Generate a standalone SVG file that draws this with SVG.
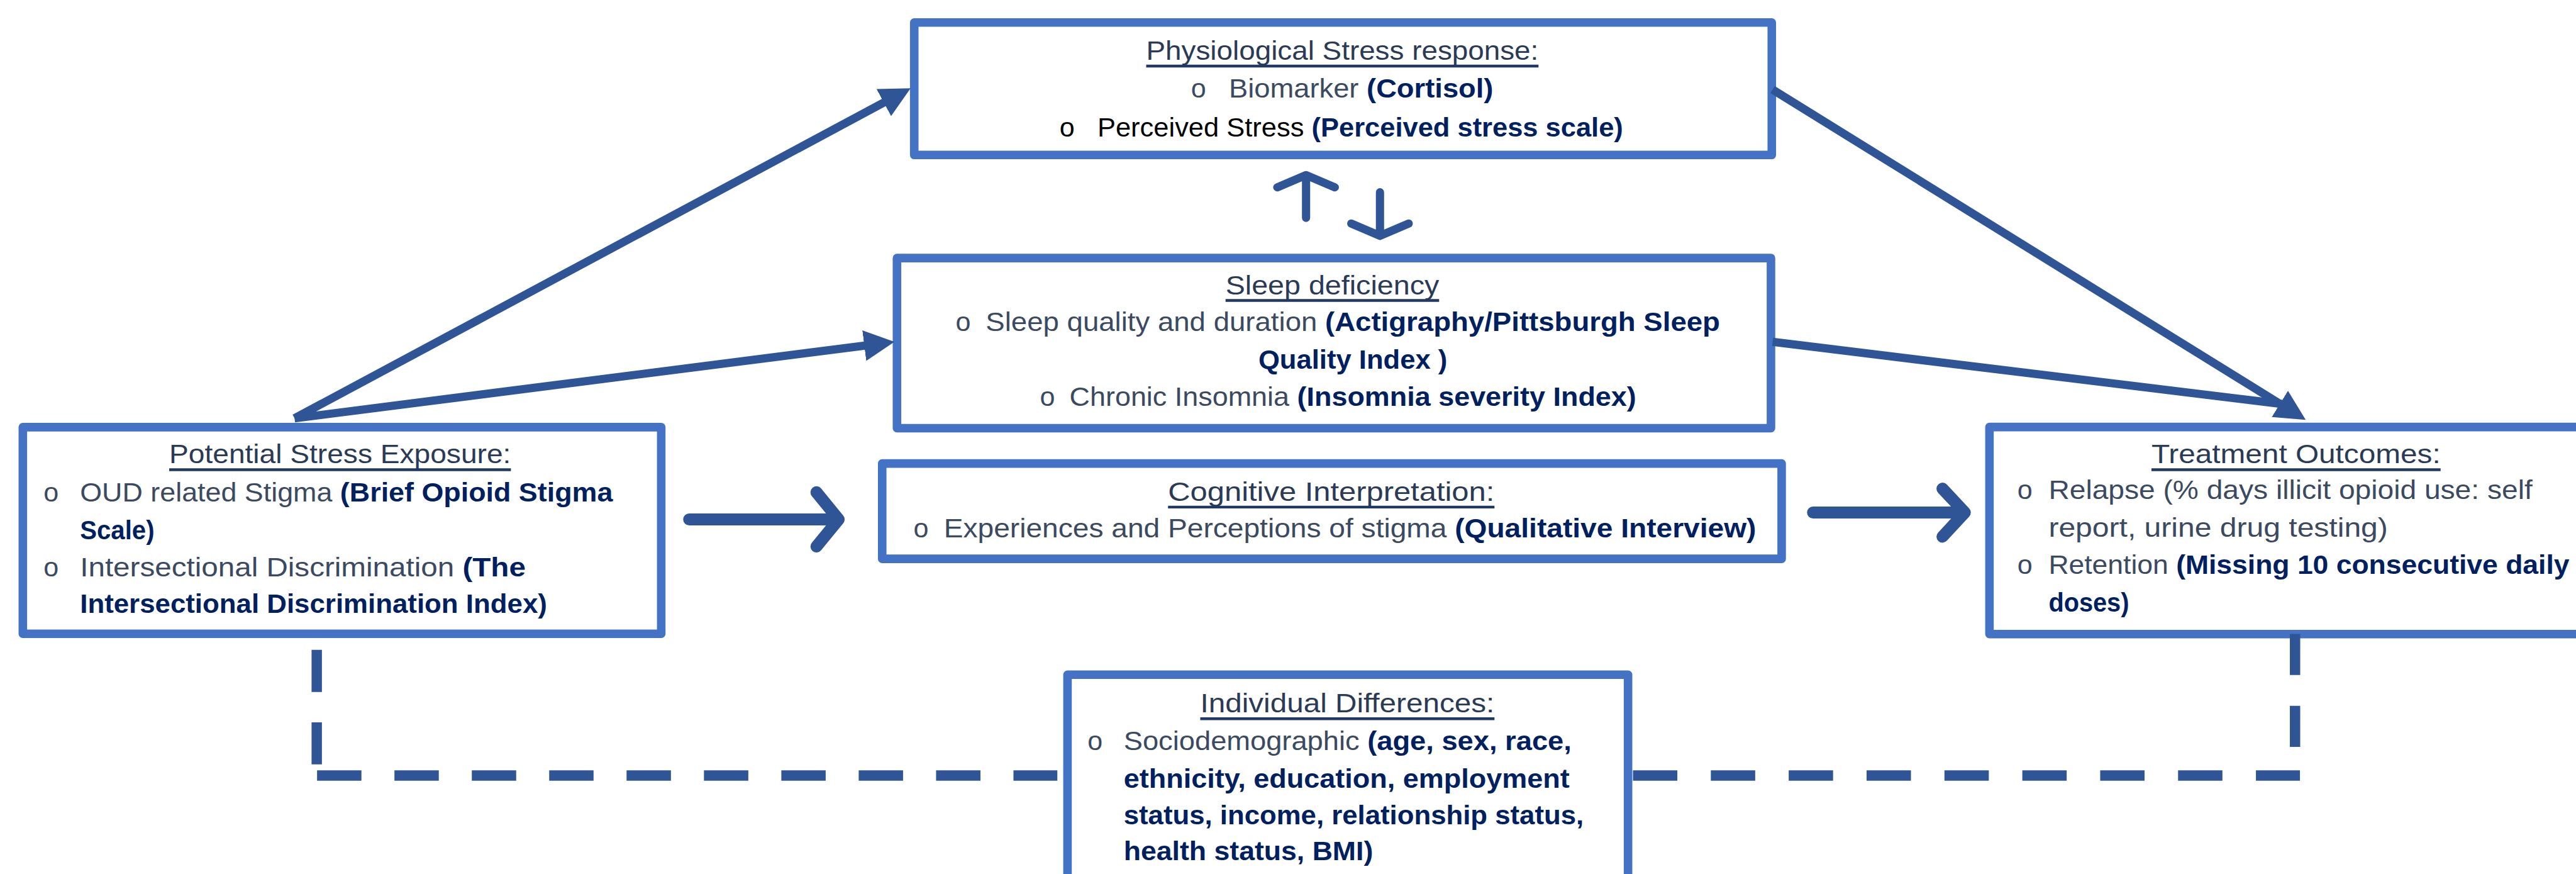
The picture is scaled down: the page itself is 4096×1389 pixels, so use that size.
<svg xmlns="http://www.w3.org/2000/svg" width="4096" height="1389" viewBox="0 0 4096 1389">
  <style>
    .box{fill:#ffffff;stroke:#4472C4;stroke-width:5.2;stroke-linejoin:round}
    .t{font-family:"Liberation Sans",Arial,sans-serif;font-size:16.5px}
    .title{fill:#2B3A55}
    .reg{fill:#3B4A61}
    .k{fill:#000000}
    .b{font-weight:bold;fill:#002060}
    .ul{stroke:#1F3864;stroke-width:1.7}
    .conn{stroke:#2F5597;stroke-width:5;fill:none}
    .chev{stroke:#2F5597;stroke-width:7.3;fill:none;stroke-linecap:round;stroke-linejoin:round}
    .small{stroke:#2F5597;stroke-width:5;fill:none;stroke-linecap:round;stroke-linejoin:round}
    .dash{stroke:#2F5597;stroke-width:6.3;fill:none}
  </style>
  <defs>
    <marker id="head" viewBox="0 0 18.5 18.7" refX="12.5" refY="9.35" markerWidth="18.5" markerHeight="18.7" markerUnits="userSpaceOnUse" orient="auto">
      <path d="M0,0 L18.5,9.35 L0,18.7 Z" fill="#2F5597"/>
    </marker>
  </defs>
  <rect width="4096" height="1389" fill="#ffffff"/>

  <g transform="scale(2.6122)">
    <!-- Physiological stress response -->
    <g id="physio">
      <rect class="box" x="556.5" y="13.7" width="522" height="80.6"/>
      <text class="t title" x="697.7" y="36.4" textLength="238.8" lengthAdjust="spacingAndGlyphs">Physiological Stress response:</text>
      <line class="ul" x1="697.7" y1="40.2" x2="936.5" y2="40.2"/>
      <text class="t reg" x="725" y="59.4">o</text>
      <text class="t" x="748" y="59.4" textLength="161" lengthAdjust="spacingAndGlyphs"><tspan class="reg">Biomarker </tspan><tspan class="b">(Cortisol)</tspan></text>
      <text class="t k" x="645" y="83">o</text>
      <text class="t" x="668" y="83" textLength="320" lengthAdjust="spacingAndGlyphs"><tspan class="k">Perceived Stress </tspan><tspan class="b">(Perceived stress scale)</tspan></text>
    </g>

    <!-- Sleep deficiency -->
    <g id="sleep">
      <rect class="box" x="546" y="157" width="532" height="103.5"/>
      <text class="t title" x="746" y="179" textLength="130" lengthAdjust="spacingAndGlyphs">Sleep deficiency</text>
      <line class="ul" x1="746" y1="182.8" x2="876" y2="182.8"/>
      <text class="t reg" x="581.7" y="201.5">o</text>
      <text class="t" x="600" y="201.5" textLength="447" lengthAdjust="spacingAndGlyphs"><tspan class="reg">Sleep quality and duration </tspan><tspan class="b">(Actigraphy/Pittsburgh Sleep</tspan></text>
      <text class="t b" x="766" y="224.5" textLength="115" lengthAdjust="spacingAndGlyphs">Quality Index )</text>
      <text class="t reg" x="633" y="246.8">o</text>
      <text class="t" x="651" y="246.8" textLength="345" lengthAdjust="spacingAndGlyphs"><tspan class="reg">Chronic Insomnia </tspan><tspan class="b">(Insomnia severity Index)</tspan></text>
    </g>

    <!-- Cognitive interpretation -->
    <g id="cognitive">
      <rect class="box" x="537" y="282" width="547.5" height="58"/>
      <text class="t title" x="711" y="304.6" textLength="198.7" lengthAdjust="spacingAndGlyphs">Cognitive Interpretation:</text>
      <line class="ul" x1="711" y1="308.5" x2="909.7" y2="308.5"/>
      <text class="t reg" x="556" y="327">o</text>
      <text class="t" x="574.5" y="327" textLength="494.5" lengthAdjust="spacingAndGlyphs"><tspan class="reg">Experiences and Perceptions of stigma </tspan><tspan class="b">(Qualitative Interview)</tspan></text>
    </g>

    <!-- Potential stress exposure -->
    <g id="exposure">
      <rect class="box" x="13.9" y="259.9" width="388.6" height="125.7"/>
      <text class="t title" x="103" y="281.6" textLength="208" lengthAdjust="spacingAndGlyphs">Potential Stress Exposure:</text>
      <line class="ul" x1="103" y1="285.8" x2="311" y2="285.8"/>
      <text class="t reg" x="26.5" y="305">o</text>
      <text class="t" x="48.7" y="305" textLength="324.3" lengthAdjust="spacingAndGlyphs"><tspan class="reg">OUD related Stigma </tspan><tspan class="b">(Brief Opioid Stigma</tspan></text>
      <text class="t b" x="48.7" y="328" textLength="45.3" lengthAdjust="spacingAndGlyphs">Scale)</text>
      <text class="t reg" x="26.5" y="350.5">o</text>
      <text class="t" x="48.7" y="350.5" textLength="271.3" lengthAdjust="spacingAndGlyphs"><tspan class="reg">Intersectional Discrimination </tspan><tspan class="b">(The</tspan></text>
      <text class="t b" x="48.7" y="373" textLength="284.3" lengthAdjust="spacingAndGlyphs">Intersectional Discrimination Index)</text>
    </g>

    <!-- Treatment outcomes (box runs past the right edge) -->
    <g id="outcomes">
      <rect class="box" x="1211" y="259.8" width="380" height="126"/>
      <text class="t title" x="1309.6" y="281.6" textLength="176" lengthAdjust="spacingAndGlyphs">Treatment Outcomes:</text>
      <line class="ul" x1="1309.6" y1="285.8" x2="1485.6" y2="285.8"/>
      <text class="t reg" x="1228" y="303.5">o</text>
      <text class="t reg" x="1247" y="303.5" textLength="294.5" lengthAdjust="spacingAndGlyphs">Relapse (% days illicit opioid use: self</text>
      <text class="t reg" x="1247" y="326.5" textLength="206.5" lengthAdjust="spacingAndGlyphs">report, urine drug testing)</text>
      <text class="t reg" x="1228" y="349">o</text>
      <text class="t" x="1247" y="349" textLength="317" lengthAdjust="spacingAndGlyphs"><tspan class="reg">Retention </tspan><tspan class="b">(Missing 10 consecutive daily</tspan></text>
      <text class="t b" x="1247" y="372" textLength="49" lengthAdjust="spacingAndGlyphs">doses)</text>
    </g>

    <!-- Individual differences (box runs past the bottom edge) -->
    <g id="individual">
      <rect class="box" x="649.8" y="410.5" width="341.2" height="150"/>
      <text class="t title" x="730.6" y="433.3" textLength="179.1" lengthAdjust="spacingAndGlyphs">Individual Differences:</text>
      <line class="ul" x1="730.6" y1="437.3" x2="909.7" y2="437.3"/>
      <text class="t reg" x="662" y="456.3">o</text>
      <text class="t" x="684" y="456.3" textLength="272.6" lengthAdjust="spacingAndGlyphs"><tspan class="reg">Sociodemographic </tspan><tspan class="b">(age, sex, race,</tspan></text>
      <text class="t b" x="684" y="479.3" textLength="271.4" lengthAdjust="spacingAndGlyphs">ethnicity, education, employment</text>
      <text class="t b" x="684" y="501.5" textLength="280" lengthAdjust="spacingAndGlyphs">status, income, relationship status,</text>
      <text class="t b" x="684" y="523.4" textLength="151.8" lengthAdjust="spacingAndGlyphs">health status, BMI)</text>
    </g>

    <!-- Connectors -->
    <g id="connectors">
      <!-- exposure to physiological response and to sleep -->
      <line class="conn" x1="179.3" y1="254.5" x2="549" y2="56.5" marker-end="url(#head)"/>
      <line class="conn" x1="179.3" y1="254.5" x2="538.5" y2="208.7" marker-end="url(#head)"/>
      <!-- physiological response and sleep to outcomes -->
      <line class="conn" x1="1079" y1="54.5" x2="1398.4" y2="252.3" marker-end="url(#head)"/>
      <line class="conn" x1="1079" y1="208" x2="1389" y2="245.8"/>
      <!-- two-way link between stress response and sleep -->
      <path class="small" d="M795,132.5 L795,107 M777.5,114 L795,106.5 L812.5,114"/>
      <path class="small" d="M840,117 L840,143 M822.5,136 L840,143.5 L857.5,136"/>
      <!-- horizontal open arrows -->
      <path class="chev" d="M419.5,316 L510.5,316 M497,299.5 L510.5,316 L497,332.5"/>
      <path class="chev" d="M1103.6,311.8 L1196,311.8 M1182.4,297.3 L1196,311.8 L1182.4,326.5"/>
      <!-- dashed moderation paths -->
      <line class="dash" x1="192.8" y1="395.4" x2="192.8" y2="465" stroke-dasharray="25.6 18.5"/>
      <line class="dash" x1="193" y1="471.8" x2="643.6" y2="471.8" stroke-dasharray="27 20.1"/>
      <line class="dash" x1="994" y1="471.8" x2="1400" y2="471.8" stroke-dasharray="27 20.4"/>
      <line class="dash" x1="1397" y1="385.7" x2="1397" y2="454.6" stroke-dasharray="25 18.7"/>
    </g>
  </g>
</svg>
